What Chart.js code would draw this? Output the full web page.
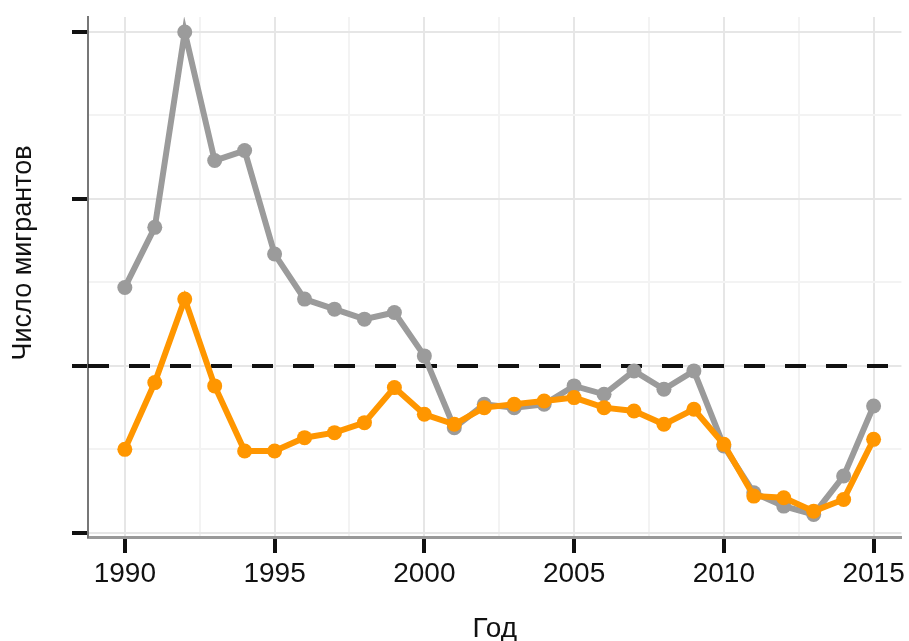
<!DOCTYPE html>
<html>
<head>
<meta charset="utf-8">
<script src="https://cdn.jsdelivr.net/npm/chart.js@4.4.1/dist/chart.umd.min.js"></script>
<style>
  html, body { margin: 0; padding: 0; background: #fff; }
  #wrap { width: 909px; height: 641px; }
</style>
</head>
<body>
<div id="wrap"><canvas id="migrantChart"></canvas></div>
<script>
// Years on the x axis
const years = [1990, 1991, 1992, 1993, 1994, 1995, 1996, 1997, 1998, 1999,
  2000, 2001, 2002, 2003, 2004, 2005, 2006, 2007, 2008, 2009,
  2010, 2011, 2012, 2013, 2014, 2015];

// Gray series (unlabelled axis units)
const graySeries = [1.47, 1.83, 3.00, 2.23, 2.29, 1.67, 1.40, 1.34, 1.28, 1.32,
  1.06, 0.63, 0.77, 0.75, 0.77, 0.88, 0.83, 0.97, 0.86, 0.97,
  0.52, 0.24, 0.16, 0.11, 0.34, 0.76];

// Orange series
const orangeSeries = [0.50, 0.90, 1.40, 0.88, 0.49, 0.49, 0.57, 0.60, 0.66, 0.87,
  0.71, 0.65, 0.75, 0.77, 0.79, 0.81, 0.75, 0.73, 0.65, 0.74,
  0.53, 0.22, 0.21, 0.13, 0.20, 0.56];

// Dashed reference level
const referenceLevel = 1;

// Tick positions
const xTickYears = [1990, 1995, 2000, 2005, 2010, 2015];
const yTickValues = [0, 1, 2, 3];

const X_MIN = 1988.77, X_MAX = 2015.93;
const Y_MIN = -0.025, Y_MAX = 3.09;

const FONT = "'Liberation Sans', Arial, sans-serif";
const TEXT_COLOR = "#111";

const toPoints = vals => vals.map((v, i) => ({ x: years[i], y: v }));

// halfway ticks make the lighter minor grid lines
function withMinor(major) {
  const out = [];
  major.forEach((v, i) => {
    out.push(v);
    if (i < major.length - 1) out.push((v + major[i + 1]) / 2);
  });
  return out;
}
const isMajor = (list, v) => list.some(m => Math.abs(m - v) < 1e-6);

// y axis title drawn by hand so it sits where the original has it
const yTitlePlugin = {
  id: "yTitle",
  afterDraw(chart) {
    const ctx = chart.ctx;
    ctx.save();
    ctx.translate(24, 253);
    ctx.rotate(-Math.PI / 2);
    ctx.font = "27px " + FONT;
    ctx.fillStyle = TEXT_COLOR;
    ctx.textAlign = "center";
    ctx.textBaseline = "middle";
    ctx.fillText("Число мигрантов", 0, 0);
    ctx.restore();
  }
};

const ctx = document.getElementById("migrantChart").getContext("2d");
new Chart(ctx, {
  type: "line",
  data: {
    datasets: [
      {
        label: "orange",
        data: toPoints(orangeSeries),
        borderColor: "#ff9600",
        backgroundColor: "#ff9600",
        borderWidth: 6,
        pointRadius: 7.5,
        pointBorderWidth: 0,
        tension: 0
      },
      {
        label: "gray",
        data: toPoints(graySeries),
        borderColor: "#9b9b9b",
        backgroundColor: "#9b9b9b",
        borderWidth: 6,
        pointRadius: 7.5,
        pointBorderWidth: 0,
        tension: 0
      },
      {
        label: "reference",
        data: [{ x: X_MIN, y: referenceLevel }, { x: X_MAX, y: referenceLevel }],
        borderColor: "#111",
        borderWidth: 4,
        borderDash: [21, 20],
        pointRadius: 0,
        tension: 0
      }
    ]
  },
  options: {
    responsive: true,
    maintainAspectRatio: false,
    animation: false,
    layout: { padding: { top: 17, right: 5, left: 0, bottom: 0 } },
    plugins: {
      legend: { display: false },
      tooltip: { enabled: false }
    },
    scales: {
      x: {
        type: "linear",
        min: X_MIN,
        max: X_MAX,
        afterBuildTicks: scale => {
          scale.ticks = withMinor(xTickYears).map(v => ({ value: v }));
        },
        afterFit: scale => { scale.height = 104; },
        ticks: {
          autoSkip: false,
          maxRotation: 0,
          padding: 4,
          color: TEXT_COLOR,
          font: { family: FONT, size: 28 },
          callback: v => (isMajor(xTickYears, v) ? String(v) : "")
        },
        grid: {
          lineWidth: 2,
          color: c => (isMajor(xTickYears, c.tick.value) ? "#e6e6e6" : "#f3f3f3"),
          tickColor: c => (isMajor(xTickYears, c.tick.value) ? "#111" : "rgba(0,0,0,0)"),
          tickLength: 16,
          tickWidth: 4
        },
        border: { display: true, color: "#999", width: 3 },
        title: {
          display: true,
          text: "Год",
          color: TEXT_COLOR,
          font: { family: FONT, size: 28, lineHeight: 1 },
          padding: { top: 0, bottom: -2 }
        }
      },
      y: {
        type: "linear",
        min: Y_MIN,
        max: Y_MAX,
        afterBuildTicks: scale => {
          scale.ticks = withMinor(yTickValues).map(v => ({ value: v }));
        },
        afterFit: scale => { scale.width = 88; },
        ticks: { display: false },
        grid: {
          lineWidth: 2,
          color: c => (isMajor(yTickValues, c.tick.value) ? "#e6e6e6" : "#f3f3f3"),
          tickColor: c => (isMajor(yTickValues, c.tick.value) ? "#111" : "rgba(0,0,0,0)"),
          tickLength: 16,
          tickWidth: 4
        },
        border: { display: true, color: "#777", width: 2 }
      }
    }
  },
  plugins: [yTitlePlugin]
});
</script>
</body>
</html>
